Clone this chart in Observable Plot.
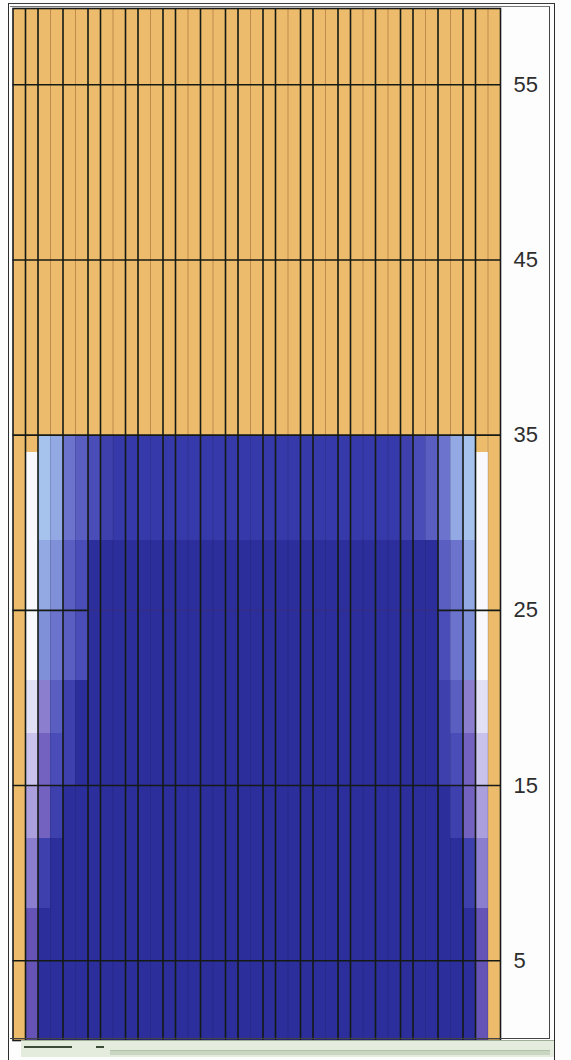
<!DOCTYPE html>
<html><head><meta charset="utf-8">
<script src="https://cdn.jsdelivr.net/npm/d3@7"></script>
<script src="https://cdn.jsdelivr.net/npm/@observablehq/plot@0.6"></script>
<style>
body{margin:0;background:#ffffff;}
#wrap{position:relative;width:571px;height:1060px;overflow:hidden;background:#fdfdfd;}
#wrap svg{position:absolute;left:0;top:0;}
.deco{position:absolute;pointer-events:none;box-sizing:border-box;}
</style></head><body>
<div id="wrap"></div>
<script>
// ---- data ----
// grid columns inside the cold zone (column 1 and 39 stay as the warm background)
const columns = [2,3,4,5,6,7,8,9,10,11,12,13,14,15,16,17,18,19,20,21,22,23,24,25,26,27,28,29,30,31,32,33,34,35,36,37,38];
// horizontal bands of the cold zone (value units)
const bandBottom = [0, 8, 12, 15, 18, 21, 25, 29, 34];
const bandTop    = [8, 12, 15, 18, 21, 25, 29, 34, 35];
// one colour-class letter per column (2..38) for every band
const bandCodes = [
  "R" + "XXXXXXXXXX" + "XXXXXXXXXX" + "XXXXXXXXXX" + "XXXXX" + "R",
  "PH" + "XXXXXXXXXX" + "XXXXXXXXXX" + "XXXXXXXXXX" + "XXX" + "HP",
  "KQH" + "XXXXXXXXXX" + "XXXXXXXXXX" + "XXXXXXXXXX" + "X" + "HQK",
  "LQGH" + "XXXXXXXXXX" + "XXXXXXXXXX" + "XXXXXXXXX" + "HGQL",
  "VPFH" + "XXXXXXXXXX" + "XXXXXXXXXX" + "XXXXXXXXX" + "HFPV",
  "WCEFG" + "XXXXXXXXXX" + "XXXXXXXXXX" + "XXXXXXXX" + "GECW",
  "WBCFG" + "XXXXXXXXXX" + "XXXXXXXXXX" + "XXXXXXXX" + "FEBW",
  "WABEFGH" + "DDDDDDDDDD" + "DDDDDDDDDD" + "DDD" + "HGFEBAW",
  "OABEFGH" + "DDDDDDDDDD" + "DDDDDDDDDD" + "DDD" + "HGFEBAO"
];
// colour classes and their colours
const classCodes  = ["O","W","V","L","K","P","Q","R","A","B","C","E","F","G","H","D","X"];
const classColors = ["#ecbc6c","#f9f9fd","#e2e0f5","#c9c2ec","#ab9fdd","#8c7ecf","#7462c1","#6553b6",
                     "#a6c3ee","#92a9e4","#7f8fd8","#6b73cc","#5a5ec1","#4a4db7","#3e41ad","#3539a9","#2b2e9b"];
// column boundaries drawn as dark / light vertical lines
const darkBounds  = [1,2,4,6,7,9,10,12,13,15,17,18,20,21,23,24,26,27,29,31,32,34,36,37];
const lightBounds = [3,5,8,11,14,16,19,22,25,28,30,33,35,38];
// horizontal grid values and tick labels
const gridFull = [5, 15, 35, 45, 55];
const gridSplit = [
  {y: 25, x1: 0, x2: 6, faint: false},
  {y: 25, x1: 6, x2: 34, faint: true},
  {y: 25, x1: 34, x2: 39, faint: false}
];
const tickValues = [5, 15, 25, 35, 45, 55];

// ---- build ----
bandCodes.forEach((s, i) => { if (s.length !== columns.length) throw new Error("band " + i + " length " + s.length); });
const cells = bandCodes.flatMap((s, i) => columns.map((c, j) => ({
  x1: c - 1, x2: c, y1: bandBottom[i], y2: bandTop[i], code: s[j]
})));
const blueTop = d3.max(bandTop);
const xDomain = [0, 39];
const yDomain = [0.45, 59.35];

const chart = Plot.plot({
  width: 571,
  height: 1060,
  marginLeft: 12.5,
  marginRight: 71,
  marginTop: 8,
  marginBottom: 20,
  style: {background: "transparent", fontFamily: "'Liberation Sans', Arial, sans-serif"},
  x: {domain: xDomain, axis: null},
  y: {domain: yDomain, axis: null},
  color: {type: "ordinal", domain: classCodes, range: classColors},
  marks: [
    Plot.frame({fill: "#ecbc6c"}),
    Plot.rect(cells, {x1: "x1", x2: "x2", y1: "y1", y2: "y2", fill: "code", shapeRendering: "crispEdges", clip: true}),
    Plot.ruleX(lightBounds, {y1: blueTop, y2: yDomain[1], stroke: "#b98347", strokeWidth: 1, strokeOpacity: 0.85}),
    Plot.ruleX(lightBounds, {y1: yDomain[0], y2: blueTop, stroke: "#1c1c3c", strokeWidth: 1, strokeOpacity: 0.18}),
    Plot.ruleY(gridFull, {stroke: "#151a14", strokeWidth: 1.6}),
    Plot.ruleY(gridSplit.filter(d => !d.faint), {y: "y", x1: "x1", x2: "x2", stroke: "#151a14", strokeWidth: 1.6}),
    Plot.ruleY(gridSplit.filter(d => d.faint), {y: "y", x1: "x1", x2: "x2", stroke: "#4a2a5a", strokeWidth: 1.2, strokeOpacity: 0.35}),
    Plot.ruleX(darkBounds, {stroke: "#141a14", strokeWidth: 1.6}),
    Plot.frame({stroke: "#1a1a1a", strokeWidth: 1.6}),
    Plot.axisY(tickValues, {anchor: "right", tickSize: 0, tickPadding: 13, fontSize: 22, fill: "#2e2e2e", label: null})
  ]
});
const wrap = document.getElementById("wrap");
wrap.appendChild(chart);

// window-like frame decorations around the chart
function deco(css){ const d = document.createElement("div"); d.className = "deco"; d.style.cssText = css; wrap.appendChild(d); }
deco("left:8px;top:3px;width:547px;height:1057px;border-left:1.5px solid #2c2c2c;border-top:1.5px solid #3a3a3a;border-right:1.5px solid #2c2c2c;");
deco("left:10px;top:6px;width:540px;height:1033px;border-top:1px solid #777;border-right:1.5px solid #444;border-bottom:1.5px solid #444;");
deco("left:21px;top:1040px;width:533px;height:17px;background:#e3ecdd;border-top:1px solid #9fb096;");
deco("left:24px;top:1046px;width:48px;height:2px;background:#3c4a38;");
deco("left:96px;top:1046px;width:8px;height:2px;background:#3c4a38;");
deco("left:110px;top:1050px;width:440px;height:5px;background:#c9d6c2;border-top:1px solid #b4c2ad;");
</script>
</body></html>
